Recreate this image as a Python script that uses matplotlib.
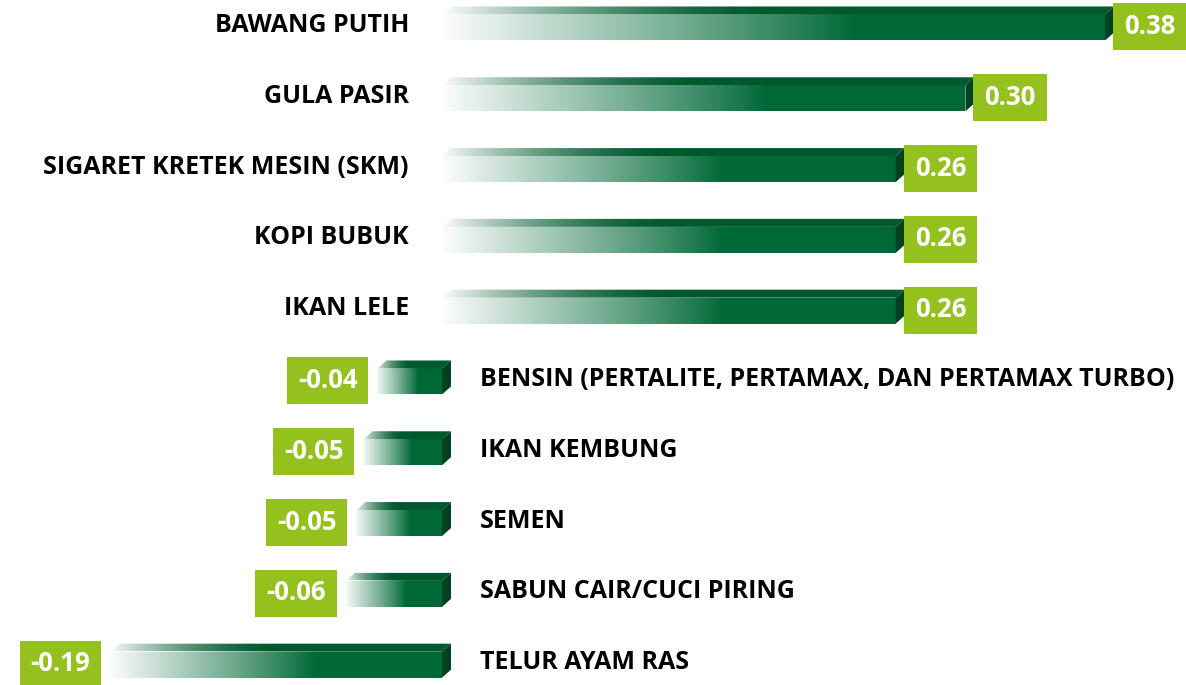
import matplotlib
matplotlib.use('Agg')
import matplotlib.pyplot as plt
import numpy as np
from matplotlib.patches import Polygon, Rectangle

categories = ['BAWANG PUTIH', 'GULA PASIR', 'SIGARET KRETEK MESIN (SKM)', 'KOPI BUBUK',
              'IKAN LELE', 'BENSIN (PERTALITE, PERTAMAX, DAN PERTAMAX TURBO)', 'IKAN KEMBUNG',
              'SEMEN', 'SABUN CAIR/CUCI PIRING', 'TELUR AYAM RAS']
values = [0.38, 0.30, 0.26, 0.26, 0.26, -0.037, -0.045, -0.049, -0.055, -0.19]
value_labels = ['0.38', '0.30', '0.26', '0.26', '0.26', '-0.04', '-0.05', '-0.05', '-0.06', '-0.19']

FRONT = '#006837'
TOP = '#00592D'
SIDE = '#00411F'
BOX = '#95C11F'
FONT = 'Open Sans'

W, H = 1186, 685
fig = plt.figure(figsize=(W / 100, H / 100), dpi=100)
ax = fig.add_axes([0, 0, 1, 1])
XL = (-0.2533, 0.4264)
YL = (9.287, -0.388)
ax.set_xlim(*XL)
ax.set_ylim(*YL)
ax.axis('off')
renderer = fig.canvas.get_renderer()

px_x = (XL[1] - XL[0]) / W
px_y = (YL[0] - YL[1]) / H

h = 26 * px_y
dx = 9 * px_x
dy = 8 * px_y

t = np.linspace(0, 1, 256)
grad_front = np.ones((1, 256, 4))
grad_front[0, :, 3] = (1 - t) ** 0.9
grad_top = np.ones((1, 256, 4))
grad_top[0, :, 3] = (1 - t) ** 1.6

for i, (cat, v, lab) in enumerate(zip(categories, values, value_labels)):
    L, R = min(0, v), max(0, v)
    top, bot = i - h / 2, i + h / 2
    ax.add_patch(Rectangle((L, top), R - L, h, facecolor=FRONT, edgecolor='none', zorder=2))
    ax.add_patch(Polygon([(L, top), (R, top), (R + dx, top - dy), (L + dx, top - dy)],
                         closed=True, facecolor=TOP, edgecolor='none', zorder=2))
    ax.add_patch(Polygon([(R, top), (R + dx, top - dy), (R + dx, bot - dy), (R, bot)],
                         closed=True, facecolor=SIDE, edgecolor='none', zorder=2))
    ax.imshow(grad_front, extent=(L - 2 * px_x, L + 0.62 * (R - L), bot + px_y, top),
              aspect='auto', interpolation='bilinear', zorder=3)
    ax.imshow(grad_top, extent=(L - 2 * px_x, L + 0.5 * (R - L), top, top - dy - px_y),
              aspect='auto', interpolation='bilinear', zorder=3)

    # value text and box
    txt = ax.text(0, i, lab, ha='center', va='center', fontsize=18.5, fontweight='bold',
                  family=FONT, color='white', zorder=6)
    tw = txt.get_window_extent(renderer).width * px_x
    bw = tw + 22 * px_x
    if v >= 0:
        bx0 = R + dx - 1 * px_x
        ax.annotate(cat, xy=(0, i), xytext=(-33, 2), textcoords='offset pixels',
                    ha='right', va='center', fontsize=18, fontweight='bold',
                    family=FONT, color='black', zorder=4)
    else:
        bx0 = L - 9 * px_x - bw
        ax.annotate(cat, xy=(0, i), xytext=(38, 2), textcoords='offset pixels',
                    ha='left', va='center', fontsize=18, fontweight='bold',
                    family=FONT, color='black', zorder=4)
    ax.add_patch(Rectangle((bx0, i - 23.5 * px_y - 0.5 * px_y), bw, 47 * px_y,
                           facecolor=BOX, edgecolor='none', zorder=5))
    txt.set_x(bx0 + bw / 2)
    txt.set_y(i - 1 * px_y)

ax.set_xlim(*XL)
ax.set_ylim(*YL)
fig.savefig('out.png', dpi=100, facecolor='white')
